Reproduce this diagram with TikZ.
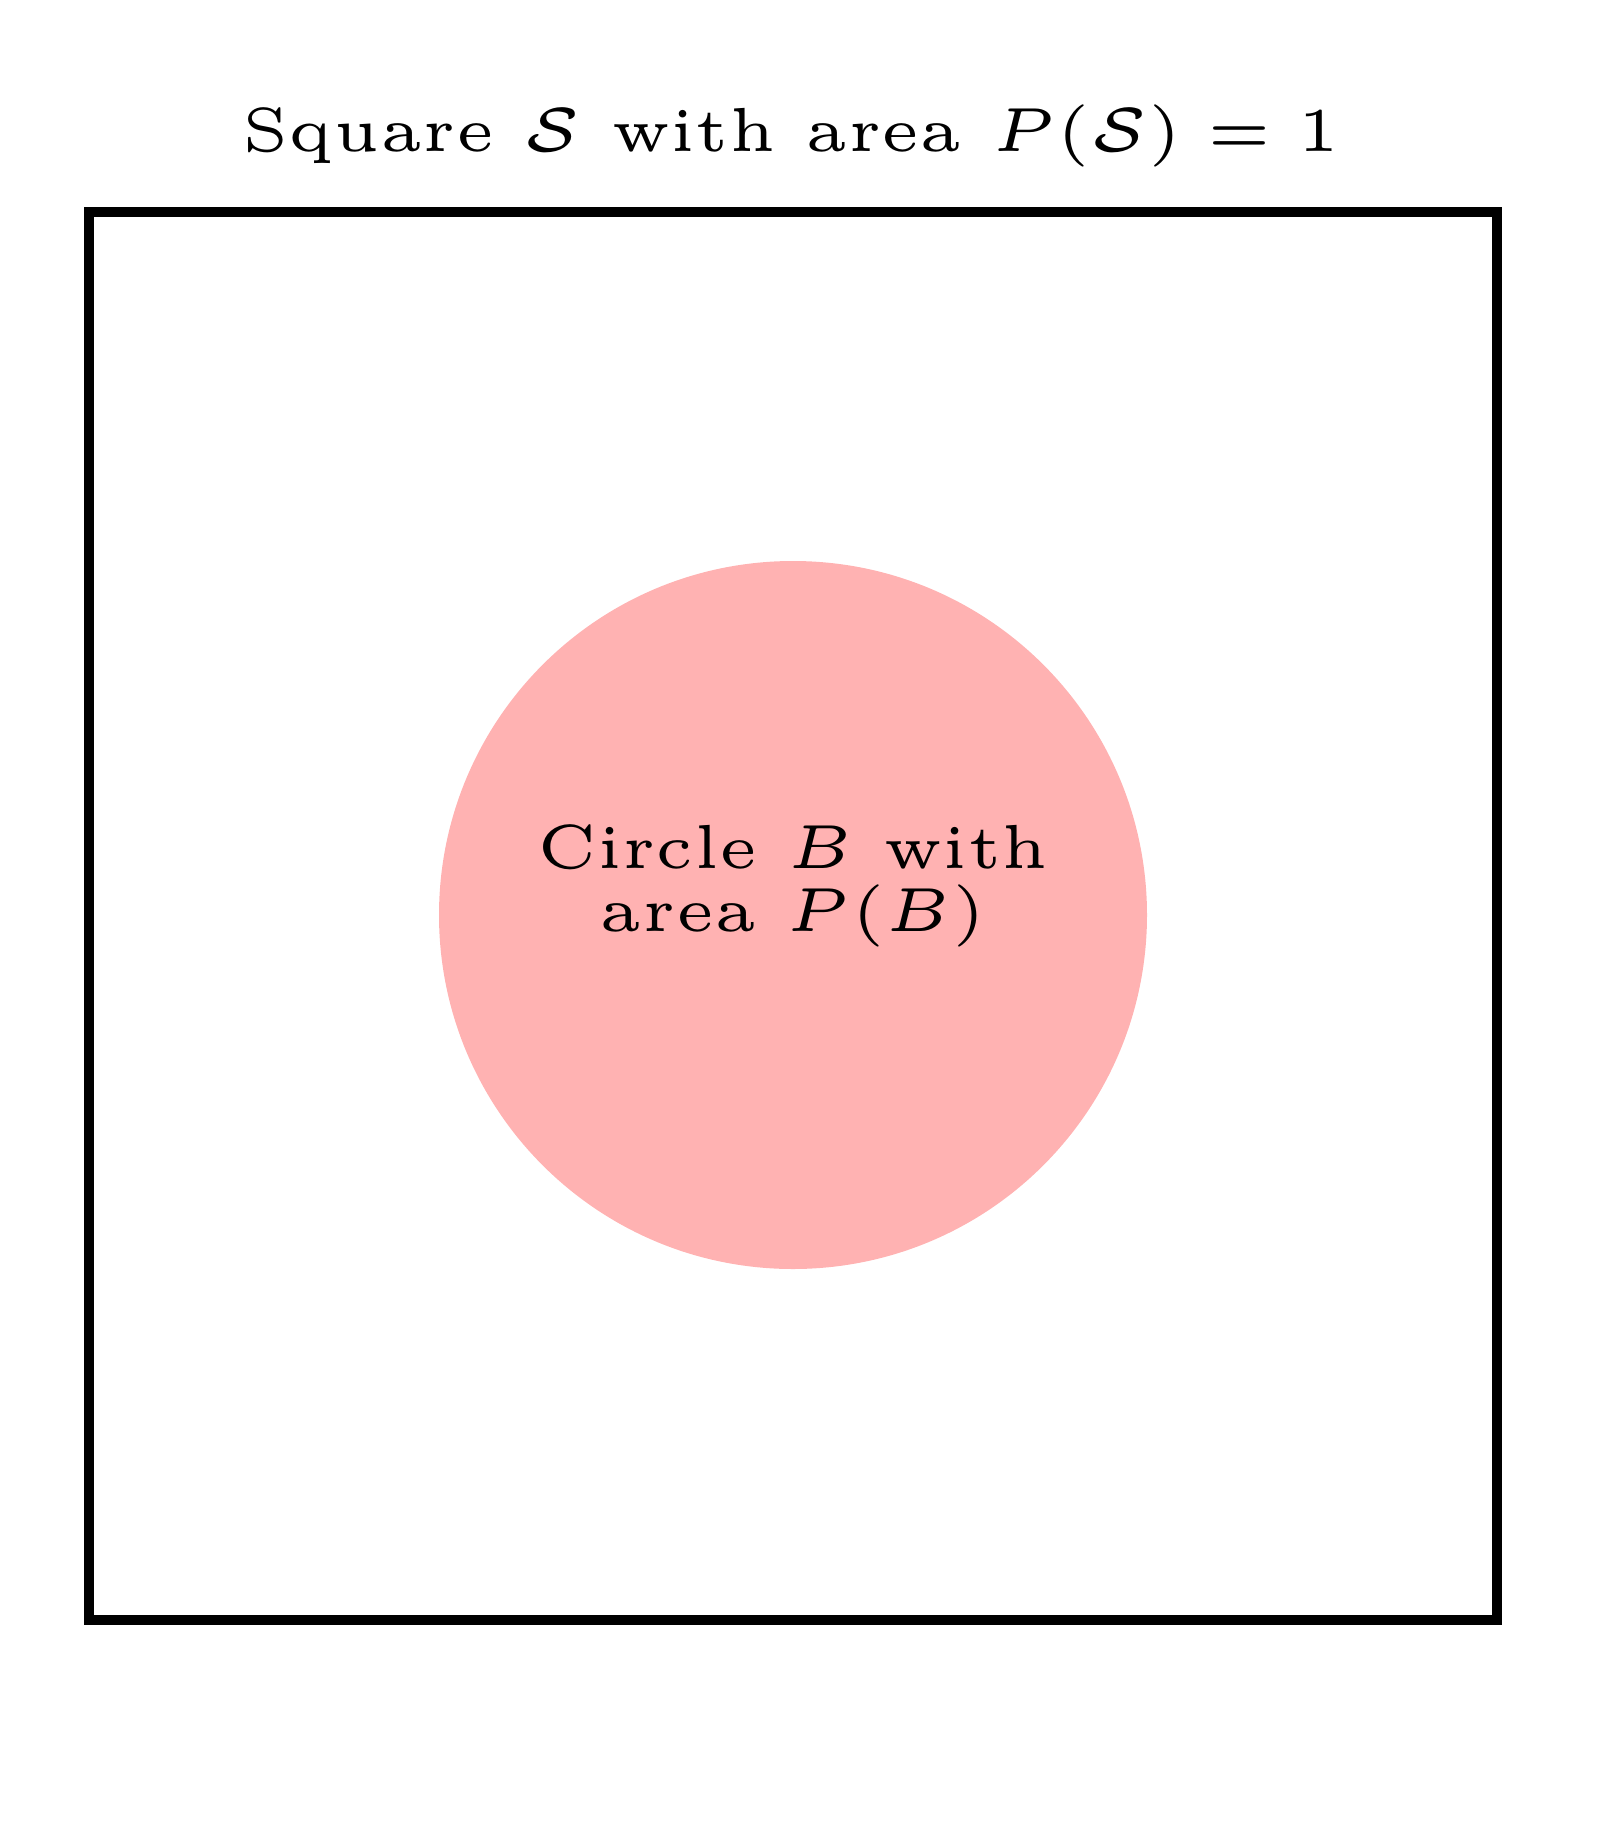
\documentclass[tikz,border=0pt]{standalone}
\usepackage{amsmath}
\usepackage{tikz}
\usetikzlibrary{positioning}
\newlength{\pxunit}
\setlength{\pxunit}{0.01cm}
\tikzstyle{square} = [draw, line width=10\pxunit, inner sep=0pt, minimum size=1408\pxunit]
\tikzstyle{disc} = [fill=red!30, circle, inner sep=0pt, minimum size=708\pxunit]
\tikzstyle{label} = [font=\fontsize{5}{5}\selectfont, align=center, inner sep=0pt, scale=3.54]

\begin{document}
\begin{tikzpicture}[x=0.01cm, y=-0.01cm]
    \useasboundingbox (0,0) rectangle (1596,1833);
    % Define the nodes
    \node [square] (space) at (793,915.5) {};
    \node [disc] (event) at (793,915) {};
    \node [label, anchor=base] (eventtext) at (793,931) {Circle $B$ with\\area $P(B)$};
    \node [label, anchor=base] (title) at (791,151) {Square $\mathcal{S}$ with area $P(\mathcal{S}) = 1$};
\end{tikzpicture}
\end{document}
